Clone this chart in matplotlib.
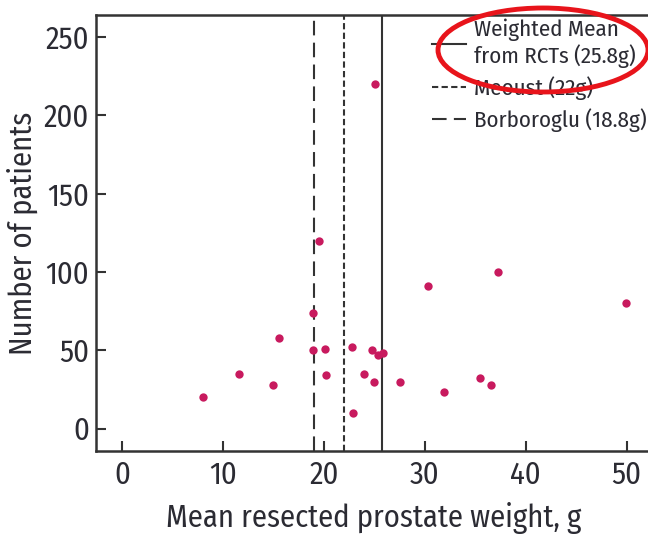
import numpy as np
import matplotlib.pyplot as plt
from matplotlib.patches import Ellipse

# --- data ---
weight_g = [8.0, 11.6, 15.0, 15.5, 18.9, 18.9, 19.5, 20.1, 20.2, 22.8, 22.9,
            24.0, 24.8, 25.0, 25.1, 25.4, 25.9, 27.5, 30.3, 31.9, 35.5, 36.6,
            37.2, 49.9]
n_patients = [20, 35, 28, 58, 74, 50, 120, 51, 34, 52, 10,
              35, 50, 30, 220, 47, 48, 30, 91, 23, 32, 28,
              100, 80]

ref_labels = ["Weighted Mean\nfrom RCTs (25.8g)", "Meoust (22g)", "Borboroglu (18.8g)"]
ref_values = [25.8, 22.0, 19.0]
ref_dashes = [None, (3, 1.6), (7, 3.5)]

x_ticks = [0, 10, 20, 30, 40, 50]
y_ticks = [0, 50, 100, 150, 200, 250]

txt_color = "#2b2b33"
line_color = "#333333"
plt.rcParams['font.family'] = ['Fira Sans Condensed', 'DejaVu Sans']

fig = plt.figure(figsize=(6.48, 5.34), dpi=100)
ax = fig.add_axes([0.148, 0.155, 0.858, 0.817])

ax.scatter(weight_g, n_patients, s=36, color="#c81a5e", zorder=3, linewidths=0)

handles = []
for val, lab, dsh in zip(ref_values, ref_labels, ref_dashes):
    if dsh is None:
        h = ax.axvline(val, color=line_color, lw=1.5, label=lab)
    else:
        h = ax.axvline(val, color=line_color, lw=1.5, dashes=dsh, label=lab)
    handles.append(h)

ax.set_xlim(-2.6, 52.5)
ax.set_ylim(-14.5, 264)
ax.set_xticks(x_ticks)
ax.set_yticks(y_ticks)
ax.tick_params(direction='in', length=7.5, width=1.5, colors=line_color,
               labelcolor=txt_color, labelsize=22)
ax.tick_params(axis='x', pad=6)
ax.tick_params(axis='y', pad=5)
for sp in ax.spines.values():
    sp.set_linewidth(1.8)
    sp.set_color(line_color)

ax.set_xlabel("Mean resected prostate weight, g", fontsize=22, color=txt_color, labelpad=9)
ax.set_ylabel("Number of patients", fontsize=22, color=txt_color, labelpad=4)

leg = fig.legend(handles=handles, loc='upper left', bbox_to_anchor=(0.652, 0.983),
                 frameon=False, fontsize=16.5, handlelength=1.5, handletextpad=0.35,
                 labelspacing=0.36, borderaxespad=0)
for t in leg.get_texts():
    t.set_color(txt_color)

# red annotation ellipse drawn over the chart
fig.patches.append(Ellipse((543 / 648, 1 - 50 / 534), 210 / 648, 84 / 534,
                           transform=fig.transFigure, fill=False,
                           edgecolor="#e8141b", lw=3.5, zorder=10))

fig.savefig("out.png", dpi=100)
